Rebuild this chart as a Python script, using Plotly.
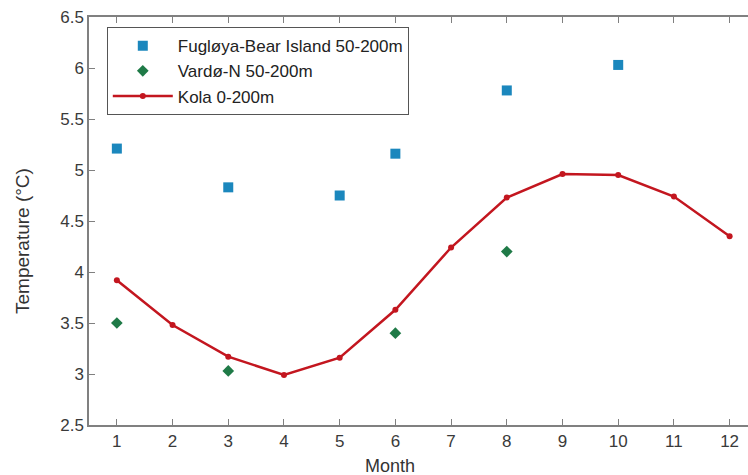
import plotly.graph_objects as go

months = list(range(1, 13))

# Fugløya-Bear Island section, 50-200 m
fb_months = [1, 3, 5, 6, 8, 10]
fb_temp = [5.21, 4.83, 4.75, 5.16, 5.78, 6.03]

# Vardø-N section, 50-200 m
vn_months = [1, 3, 6, 8]
vn_temp = [3.50, 3.03, 3.40, 4.20]

# Kola section, 0-200 m
kola_temp = [3.92, 3.48, 3.17, 2.99, 3.16, 3.63, 4.24, 4.73, 4.96, 4.95, 4.74, 4.35]

y_ticks = [2.5, 3, 3.5, 4, 4.5, 5, 5.5, 6, 6.5]

FONT = "Liberation Sans, Arial, sans-serif"
AXIS_GRAY = "#808080"
TEXT = "#333333"

fig = go.Figure()
fig.add_trace(go.Scatter(
    x=fb_months, y=fb_temp, mode="markers", name="Fugløya-Bear Island 50-200m",
    marker=dict(symbol="square", size=10, color="#1b87bd"),
))
fig.add_trace(go.Scatter(
    x=vn_months, y=vn_temp, mode="markers", name="Vardø-N 50-200m",
    marker=dict(symbol="diamond", size=9, color="#1f7a47"),
))
fig.add_trace(go.Scatter(
    x=months, y=kola_temp, mode="lines+markers", name="Kola 0-200m",
    line=dict(color="#c3161f", width=2.5),
    marker=dict(symbol="circle", size=6, color="#c3161f"),
))

fig.update_layout(
    width=748, height=475,
    margin=dict(l=89, r=0, t=17, b=50),
    paper_bgcolor="white", plot_bgcolor="white",
    font=dict(family=FONT, size=17, color=TEXT),
    showlegend=True,
    legend=dict(
        x=0.027, y=0.975, xanchor="left", yanchor="top",
        bgcolor="white", bordercolor="#555555", borderwidth=1,
        font=dict(family=FONT, size=17, color="#222222"),
        itemwidth=60, tracegroupgap=0,
    ),
    xaxis=dict(
        range=[0.5, 12.33], tickvals=months, ticktext=[str(m) for m in months],
        showgrid=False, zeroline=False,
        showline=True, linecolor=AXIS_GRAY, linewidth=1.5, mirror="allticks",
        ticks="inside", ticklen=6, tickcolor=AXIS_GRAY, tickwidth=1,
        tickfont=dict(size=17, color="#3a3a3a"),
    ),
    yaxis=dict(
        range=[2.5, 6.5], tickvals=y_ticks, ticktext=[f"{v:g}" for v in y_ticks],
        showgrid=False, zeroline=False,
        showline=True, linecolor=AXIS_GRAY, linewidth=1.5,
        ticks="inside", ticklen=6, tickcolor=AXIS_GRAY, tickwidth=1,
        tickfont=dict(size=17, color="#3a3a3a"),
    ),
    annotations=[
        dict(text="Month", xref="paper", yref="paper", x=(390 - 89) / 659, y=-0.1,
             xanchor="center", yanchor="middle", showarrow=False,
             font=dict(family=FONT, size=18, color=TEXT)),
        dict(text="Temperature (°C)", xref="paper", yref="paper", x=(22 - 89) / 659,
             y=1 - (241 - 17) / 408,
             xanchor="center", yanchor="middle", showarrow=False, textangle=-90,
             font=dict(family=FONT, size=19, color=TEXT)),
    ],
)

fig.write_html("out.html")
